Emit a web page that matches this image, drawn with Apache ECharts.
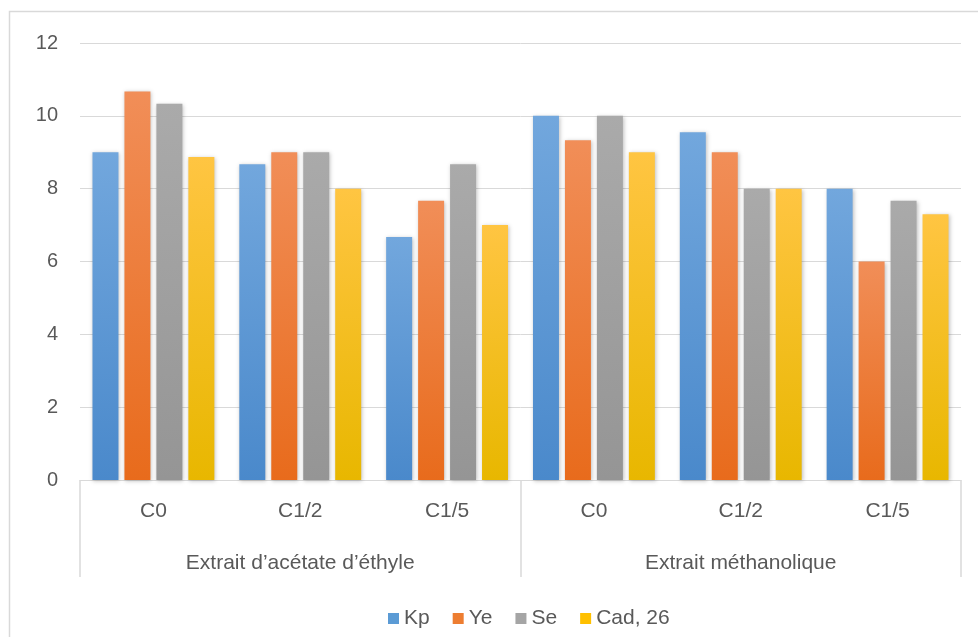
<!DOCTYPE html>
<html><head><meta charset="utf-8">
<script src="https://cdn.jsdelivr.net/npm/echarts@6/dist/echarts.min.js"></script>
<style>html,body{margin:0;padding:0;background:#fff}#c{width:978px;height:637px}</style>
</head><body><div id="c"></div>
<script>
const categories = ['C0', 'C1/2', 'C1/5', 'C0', 'C1/2', 'C1/5'];
const groups = ['Extrait d\u2019acétate d\u2019éthyle', 'Extrait méthanolique'];
const seriesNames = ['Kp', 'Ye', 'Se', 'Cad, 26'];
const kp  = [9.0, 8.67, 6.67, 10.0, 9.55, 8.0];
const ye  = [10.67, 9.0, 7.67, 9.33, 9.0, 6.0];
const se  = [10.33, 9.0, 8.67, 10.0, 8.0, 7.67];
const cad = [8.87, 8.0, 7.0, 9.0, 8.0, 7.3];
const yTicks = [0, 2, 4, 6, 8, 10, 12];

const FONT = 'Liberation Sans';
const TXT = '#595959';
const grads = [['#72a7dd', '#4a89cb'], ['#f18e58', '#e86b1c'], ['#aaaaaa', '#959595'], ['#ffc542', '#e8b700']];
const legendColors = ['#5b9bd5', '#ed7d31', '#a5a5a5', '#ffc000'];
const values = [kp, ye, se, cad];

const chart = echarts.init(document.getElementById('c'), null, {renderer: 'canvas'});
chart.setOption({
  animation: false,
  backgroundColor: '#fff',
  textStyle: {fontFamily: FONT},
  graphic: [{type: 'rect', shape: {x: 9.5, y: 11.5, width: 1000, height: 700}, style: {fill: 'none', stroke: '#d9d9d9', lineWidth: 1.5}, silent: true}],
  grid: {left: 80, right: 17, top: 43, bottom: 157},
  legend: {
    left: 383, top: 603, itemWidth: 11, itemHeight: 11, itemGap: 23,
    icon: 'rect',
    textStyle: {color: TXT, fontSize: 21, fontFamily: FONT},
    data: seriesNames.map((n, i) => ({name: n, itemStyle: {color: legendColors[i]}}))
  },
  xAxis: [{
    type: 'category', data: categories, position: 'bottom',
    axisLine: {show: true, lineStyle: {color: '#d9d9d9', width: 1}},
    axisTick: {show: false},
    axisLabel: {color: TXT, fontSize: 21, margin: 21, interval: 0, fontFamily: FONT}
  }, {
    type: 'category', data: groups, position: 'bottom',
    axisLine: {show: false},
    axisTick: {show: true, length: 97, lineStyle: {color: '#d9d9d9', width: 1.5}},
    axisLabel: {color: TXT, fontSize: 21, margin: 73, interval: 0, fontFamily: FONT}
  }],
  yAxis: {
    type: 'value', min: 0, max: 12, interval: 2,
    axisLine: {show: false}, axisTick: {show: false},
    splitLine: {lineStyle: {color: '#d9d9d9', width: 1}},
    axisLabel: {color: TXT, fontSize: 20, margin: 22, fontFamily: FONT,
      formatter: v => yTicks.includes(v) ? String(v) : ''}
  },
  series: values.map((d, i) => ({
    name: seriesNames[i], type: 'bar', data: d, xAxisIndex: 0,
    barGap: '23%', barCategoryGap: '17%',
    itemStyle: {
      color: new echarts.graphic.LinearGradient(0, 0, 0, 1, [{offset: 0, color: grads[i][0]}, {offset: 1, color: grads[i][1]}]),
      shadowBlur: 4, shadowColor: 'rgba(0,0,0,0.25)', shadowOffsetX: 1, shadowOffsetY: 1
    }
  }))
});
</script></body></html>
